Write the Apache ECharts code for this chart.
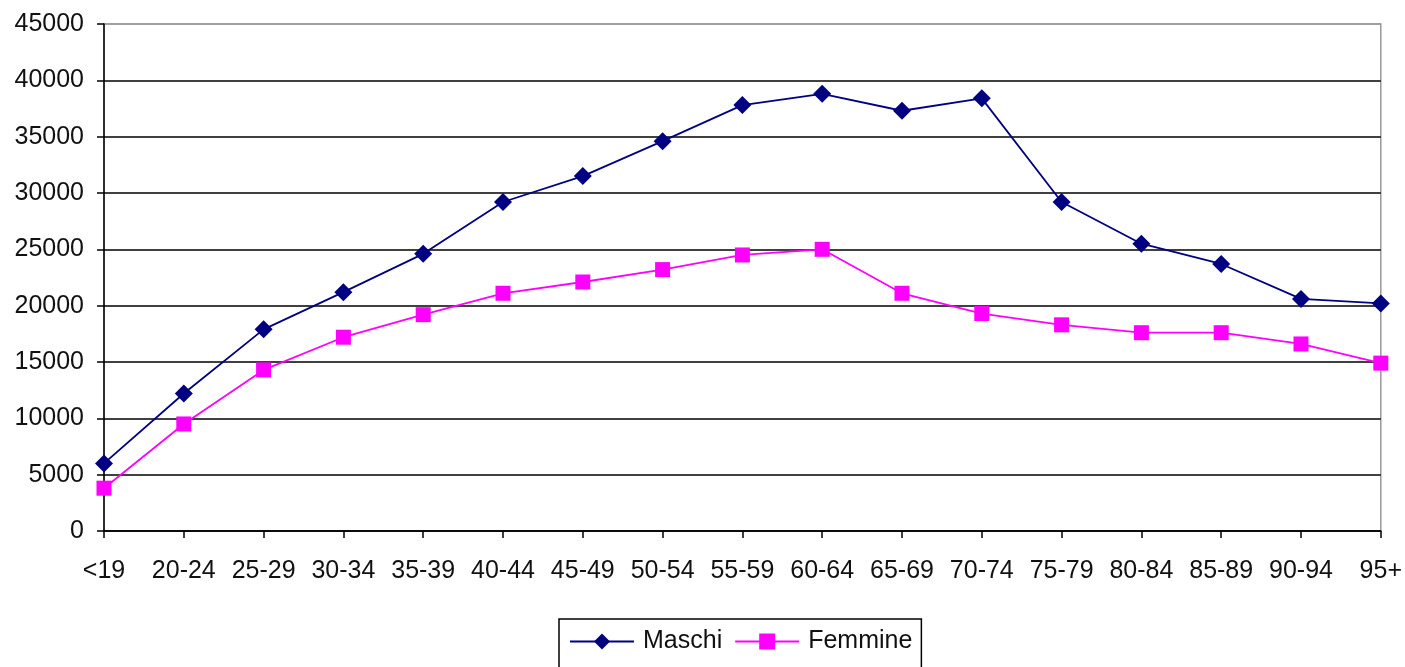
<!DOCTYPE html>
<html>
<head>
<meta charset="utf-8">
<script src="https://cdn.jsdelivr.net/npm/echarts@6/dist/echarts.min.js"></script>
<style>
  html, body { margin: 0; padding: 0; background: #fff; }
  #main { width: 1405px; height: 667px; }
</style>
</head>
<body>
<div id="main"></div>
<script>
// fasce d'età
const categories = ['<19', '20-24', '25-29', '30-34', '35-39', '40-44', '45-49', '50-54', '55-59',
  '60-64', '65-69', '70-74', '75-79', '80-84', '85-89', '90-94', '95+'];
const maschi = [6000, 12200, 17900, 21200, 24600, 29200, 31500, 34600, 37800,
  38800, 37300, 38400, 29200, 25500, 23700, 20600, 20200];
const femmine = [3800, 9500, 14300, 17200, 19200, 21100, 22100, 23200, 24500,
  25000, 21100, 19300, 18300, 17600, 17600, 16600, 14900];
const yTicks = { min: 0, max: 45000, interval: 5000 };

let myChart = echarts.init(document.getElementById('main'));

// ultima linea (45000) grigia come il bordo dell'area
let gridColors = [];
for (let i = 0; i < 9; i++) gridColors.push('#000');
gridColors.push('#999');

let option = {
  animation: false,
  textStyle: { fontFamily: 'Liberation Sans, Arial, sans-serif' },
  grid: {
    left: 104, right: 23, top: 24, bottom: 136,
    show: true, borderColor: '#999', borderWidth: 1.5
  },
  legend: {
    left: 559, top: 619,
    padding: [10, 9, 30, 10],
    borderColor: '#000', borderWidth: 1.5,
    itemWidth: 64, itemHeight: 20, itemGap: 12,
    textStyle: { fontSize: 25, color: '#111', padding: [0, 0, 0, 4] },
    data: ['Maschi', 'Femmine']
  },
  xAxis: {
    type: 'category',
    data: categories,
    boundaryGap: false,
    axisLine: { lineStyle: { color: '#000', width: 1.5 } },
    axisTick: { show: true, interval: 0, length: 7, lineStyle: { color: '#000', width: 1.5 } },
    axisLabel: { interval: 0, fontSize: 25, color: '#111', margin: 28, hideOverlap: false },
    splitLine: { show: false }
  },
  yAxis: {
    type: 'value',
    min: yTicks.min, max: yTicks.max, interval: yTicks.interval,
    axisLine: { show: true, lineStyle: { color: '#000', width: 1.5 } },
    axisTick: { show: true, length: 7, lineStyle: { color: '#000', width: 1.5 } },
    axisLabel: { fontSize: 25, color: '#111', margin: 20, formatter: function (v) { return String(v); } },
    splitLine: { lineStyle: { color: gridColors, width: 1.5 } }
  },
  series: [{
    name: 'Maschi',
    type: 'line',
    data: maschi,
    symbol: 'diamond',
    symbolSize: 18,
    lineStyle: { color: '#000080', width: 1.8 },
    itemStyle: { color: '#000080' }
  }, {
    name: 'Femmine',
    type: 'line',
    data: femmine,
    symbol: 'rect',
    symbolSize: 15,
    lineStyle: { color: '#ff00ff', width: 1.8 },
    itemStyle: { color: '#ff00ff' }
  }]
};
myChart.setOption(option);
</script>
</body>
</html>
